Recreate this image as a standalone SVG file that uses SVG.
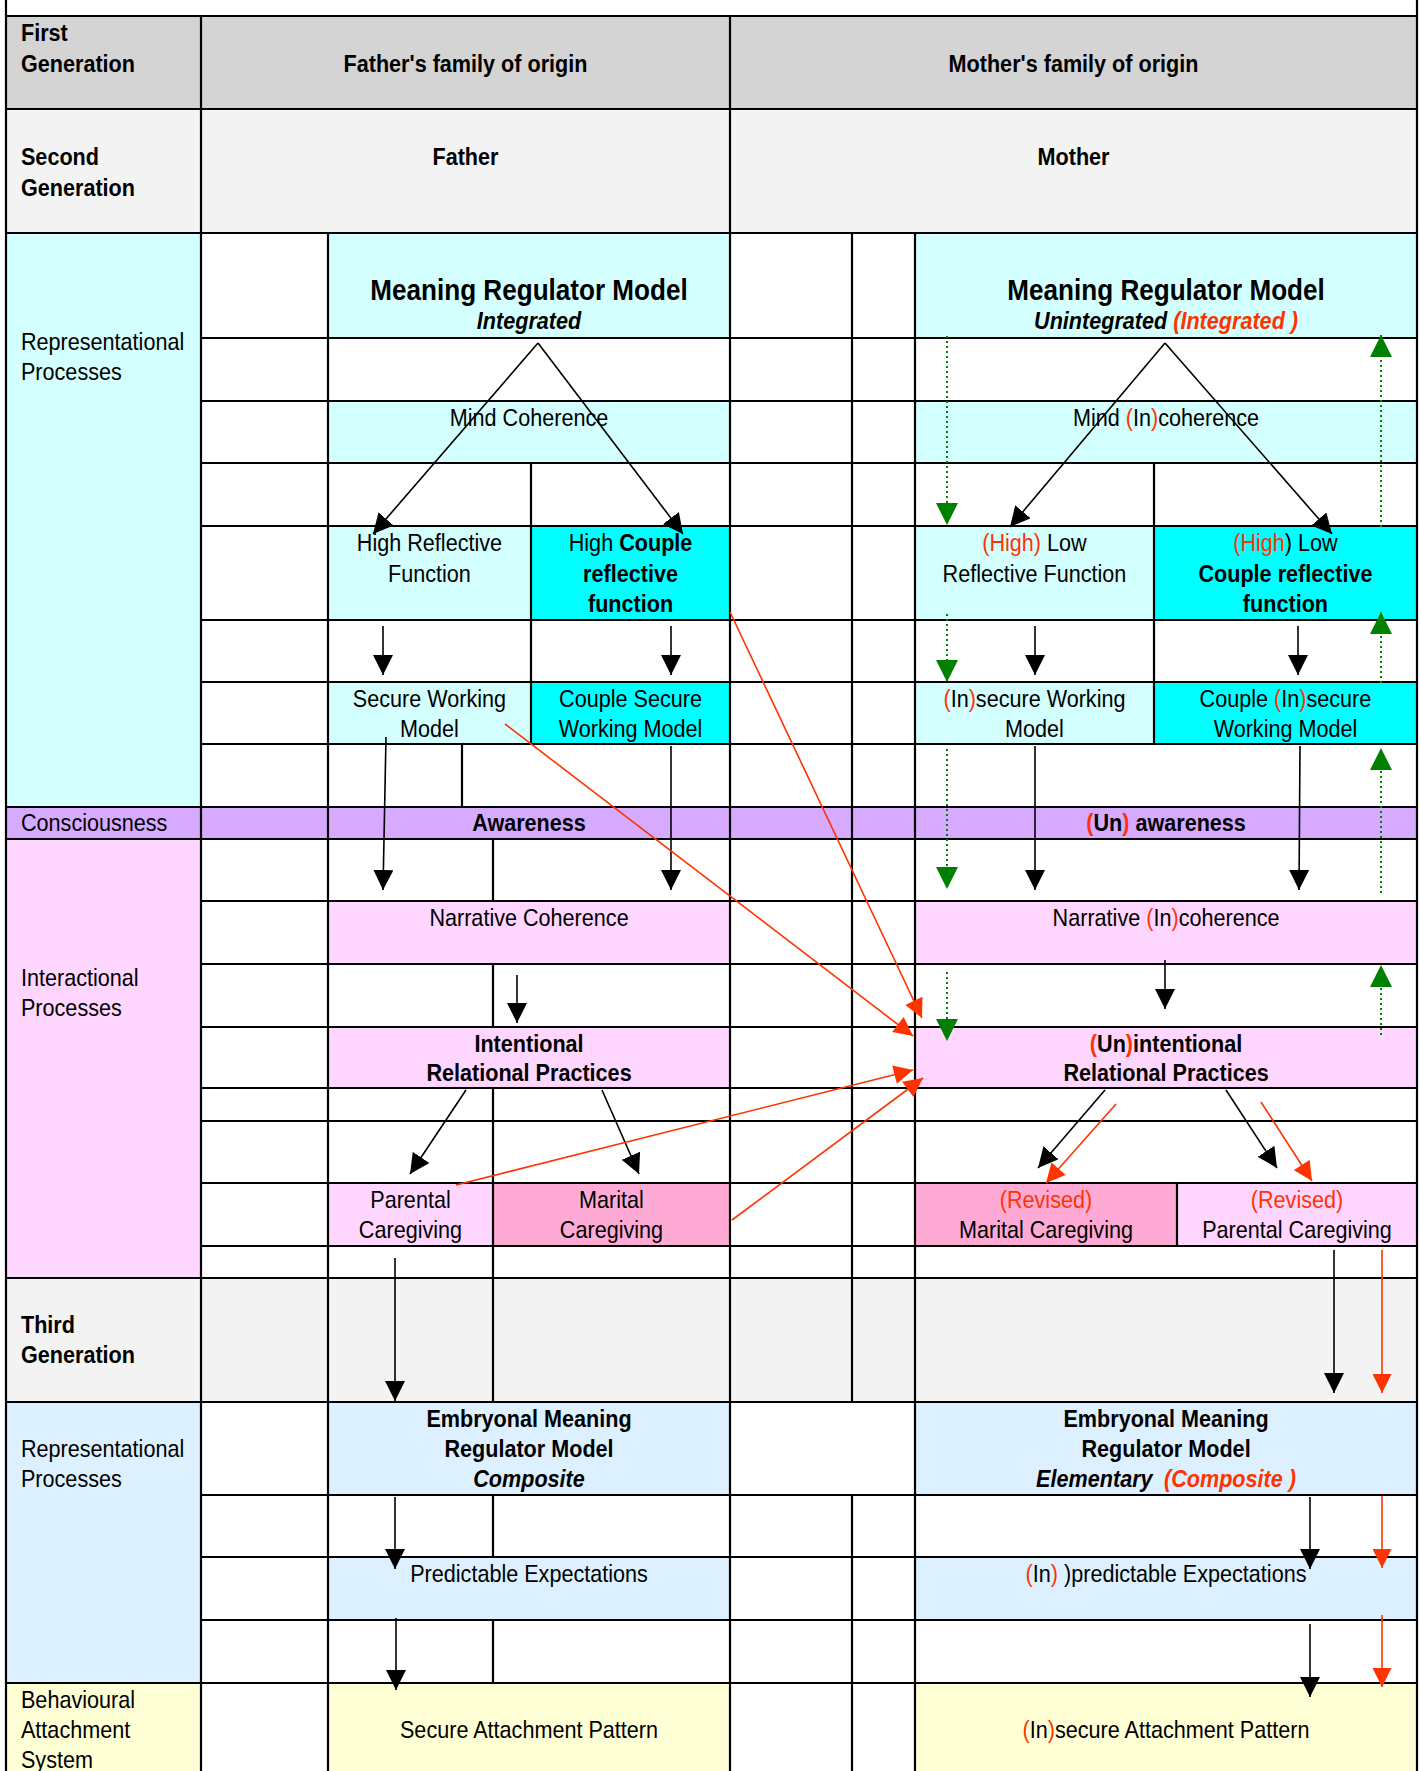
<svg xmlns="http://www.w3.org/2000/svg" width="1421" height="1771" viewBox="0 0 1421 1771">
<style>
  text { font-family: "Liberation Sans", Arial, sans-serif; font-size: 24px; fill: #000; }
  .b { font-weight: bold; }
  .i { font-style: italic; }
  .c { text-anchor: middle; }
  .big { font-size: 29px; font-weight: bold; }
  .red { fill: #ff3300; }
  .g1 { fill: #d4d4d4; }
  .g2 { fill: #f3f3f3; }
  .cy { fill: #d4ffff; }
  .cy2 { fill: #00ffff; }
  .pu { fill: #d6aaff; }
  .pk { fill: #ffd6ff; }
  .pk2 { fill: #ffaad5; }
  .bl { fill: #dcf0ff; }
  .ye { fill: #ffffd6; }
  .grid { stroke: #000; stroke-width: 2.2; fill: none; }
  .k { stroke: #000; stroke-width: 1.6; fill: none; marker-end: url(#mk); }
  .rd { stroke: #ff3300; stroke-width: 1.6; fill: none; marker-end: url(#mr); }
  .gr { stroke: #008000; stroke-width: 2; stroke-dasharray: 2 3; fill: none; marker-end: url(#mg); }
</style>
<defs>
  <marker id="mk" viewBox="0 0 20 20" refX="20" refY="10" markerWidth="20" markerHeight="20" markerUnits="userSpaceOnUse" orient="auto"><path d="M0,0L20,10L0,20Z" fill="#000"/></marker>
  <marker id="mr" viewBox="0 0 20 20" refX="20" refY="10" markerWidth="20" markerHeight="19" markerUnits="userSpaceOnUse" orient="auto"><path d="M0,0L20,10L0,20Z" fill="#ff3300"/></marker>
  <marker id="mg" viewBox="0 0 20 20" refX="20" refY="10" markerWidth="22" markerHeight="22" markerUnits="userSpaceOnUse" orient="auto"><path d="M0,0L20,10L0,20Z" fill="#008000"/></marker>
</defs>

<rect x="0" y="0" width="1421" height="1771" fill="#fff"/>

<!-- header rows -->
<g id="first-generation"><rect x="6" y="16" width="195" height="93" class="g1"/>
  <text class="b" transform="scale(.9 1)" x="23.3" y="41">First</text>
  <text class="b" transform="scale(.9 1)" x="23.3" y="72">Generation</text></g>
<g id="father-family"><rect x="201" y="16" width="529" height="93" class="g1"/>
  <text class="b c" transform="scale(.9 1)" x="517.2" y="72">Father's family of origin</text></g>
<g id="mother-family"><rect x="730" y="16" width="687" height="93" class="g1"/>
  <text class="b c" transform="scale(.9 1)" x="1192.8" y="72">Mother's family of origin</text></g>

<g id="second-generation"><rect x="6" y="109" width="195" height="124" class="g2"/>
  <text class="b" transform="scale(.9 1)" x="23.3" y="165">Second</text>
  <text class="b" transform="scale(.9 1)" x="23.3" y="196">Generation</text></g>
<g id="father"><rect x="201" y="109" width="529" height="124" class="g2"/>
  <text class="b c" transform="scale(.9 1)" x="517.2" y="165">Father</text></g>
<g id="mother"><rect x="730" y="109" width="687" height="124" class="g2"/>
  <text class="b c" transform="scale(.9 1)" x="1192.8" y="165">Mother</text></g>

<!-- row labels -->
<g id="representational-2"><rect x="6" y="233" width="195" height="574" class="cy"/>
  <text transform="scale(.9 1)" x="23.3" y="350">Representational</text>
  <text transform="scale(.9 1)" x="23.3" y="380">Processes</text></g>
<g id="consciousness"><rect x="6" y="807" width="1411" height="32" class="pu"/>
  <text transform="scale(.9 1)" x="23.3" y="831">Consciousness</text></g>
<g id="interactional"><rect x="6" y="839" width="195" height="439" class="pk"/>
  <text transform="scale(.9 1)" x="23.3" y="986">Interactional</text>
  <text transform="scale(.9 1)" x="23.3" y="1016">Processes</text></g>
<g id="third-generation"><rect x="6" y="1278" width="1411" height="124" class="g2"/>
  <text class="b" transform="scale(.9 1)" x="23.3" y="1333">Third</text>
  <text class="b" transform="scale(.9 1)" x="23.3" y="1363">Generation</text></g>
<g id="representational-3"><rect x="6" y="1402" width="195" height="281" class="bl"/>
  <text transform="scale(.9 1)" x="23.3" y="1457">Representational</text>
  <text transform="scale(.9 1)" x="23.3" y="1487">Processes</text></g>
<g id="behavioural"><rect x="6" y="1683" width="195" height="88" class="ye"/>
  <text transform="scale(.9 1)" x="23.3" y="1708">Behavioural</text>
  <text transform="scale(.9 1)" x="23.3" y="1738">Attachment</text>
  <text transform="scale(.9 1)" x="23.3" y="1768">System</text></g>

<!-- father column -->
<g id="f-meaning-model"><rect x="328" y="233" width="402" height="105" class="cy"/>
  <text class="big c" transform="scale(.9 1)" x="587.8" y="300">Meaning Regulator Model</text>
  <text class="b i c" transform="scale(.9 1)" x="587.8" y="329">Integrated</text></g>
<g id="f-mind"><rect x="328" y="401" width="402" height="62" class="cy"/>
  <text class="c" transform="scale(.9 1)" x="587.8" y="426">Mind Coherence</text></g>
<g id="f-reflective"><rect x="328" y="526" width="203" height="94" class="cy"/>
  <text class="c" transform="scale(.9 1)" x="477.2" y="551">High Reflective</text>
  <text class="c" transform="scale(.9 1)" x="477.2" y="582">Function</text></g>
<g id="f-couple-reflective"><rect x="531" y="526" width="199" height="94" class="cy2"/>
  <text class="c" transform="scale(.9 1)" x="700.6" y="551">High <tspan class="b">Couple</tspan></text>
  <text class="b c" transform="scale(.9 1)" x="700.6" y="582">reflective</text>
  <text class="b c" transform="scale(.9 1)" x="700.6" y="612">function</text></g>
<g id="f-working-model"><rect x="328" y="682" width="203" height="62" class="cy"/>
  <text class="c" transform="scale(.9 1)" x="477.2" y="707">Secure Working</text>
  <text class="c" transform="scale(.9 1)" x="477.2" y="737">Model</text></g>
<g id="f-couple-working"><rect x="531" y="682" width="199" height="62" class="cy2"/>
  <text class="c" transform="scale(.9 1)" x="700.6" y="707">Couple Secure</text>
  <text class="c" transform="scale(.9 1)" x="700.6" y="737">Working Model</text></g>
<g id="f-awareness">
  <text class="b c" transform="scale(.9 1)" x="587.8" y="831">Awareness</text></g>
<g id="f-narrative"><rect x="328" y="901" width="402" height="63" class="pk"/>
  <text class="c" transform="scale(.9 1)" x="587.8" y="926">Narrative Coherence</text></g>
<g id="f-practices"><rect x="328" y="1027" width="402" height="61" class="pk"/>
  <text class="b c" transform="scale(.9 1)" x="587.8" y="1052">Intentional</text>
  <text class="b c" transform="scale(.9 1)" x="587.8" y="1081">Relational Practices</text></g>
<g id="f-parental"><rect x="328" y="1183" width="165" height="63" class="pk"/>
  <text class="c" transform="scale(.9 1)" x="456.1" y="1208">Parental</text>
  <text class="c" transform="scale(.9 1)" x="456.1" y="1238">Caregiving</text></g>
<g id="f-marital"><rect x="493" y="1183" width="237" height="63" class="pk2"/>
  <text class="c" transform="scale(.9 1)" x="679.4" y="1208">Marital</text>
  <text class="c" transform="scale(.9 1)" x="679.4" y="1238">Caregiving</text></g>
<g id="f-embryonal"><rect x="328" y="1402" width="402" height="93" class="bl"/>
  <text class="b c" transform="scale(.9 1)" x="587.8" y="1427">Embryonal Meaning</text>
  <text class="b c" transform="scale(.9 1)" x="587.8" y="1457">Regulator Model</text>
  <text class="b i c" transform="scale(.9 1)" x="587.8" y="1487">Composite</text></g>
<g id="f-expectations"><rect x="328" y="1557" width="402" height="63" class="bl"/>
  <text class="c" transform="scale(.9 1)" x="587.8" y="1582">Predictable Expectations</text></g>
<g id="f-attachment"><rect x="328" y="1683" width="402" height="88" class="ye"/>
  <text class="c" transform="scale(.9 1)" x="587.8" y="1738">Secure Attachment Pattern</text></g>

<!-- mother column -->
<g id="m-meaning-model"><rect x="915" y="233" width="502" height="105" class="cy"/>
  <text class="big c" transform="scale(.9 1)" x="1295.6" y="300">Meaning Regulator Model</text>
  <text class="b i c" transform="scale(.9 1)" x="1295.6" y="329">Unintegrated <tspan class="red">(Integrated )</tspan></text></g>
<g id="m-mind"><rect x="915" y="401" width="502" height="62" class="cy"/>
  <text class="c" transform="scale(.9 1)" x="1295.6" y="426">Mind <tspan class="red">(</tspan>In<tspan class="red">)</tspan>coherence</text></g>
<g id="m-reflective"><rect x="915" y="526" width="239" height="94" class="cy"/>
  <text class="c" transform="scale(.9 1)" x="1149.4" y="551"><tspan class="red">(High)</tspan> Low</text>
  <text class="c" transform="scale(.9 1)" x="1149.4" y="582">Reflective Function</text></g>
<g id="m-couple-reflective"><rect x="1154" y="526" width="263" height="94" class="cy2"/>
  <text class="c" transform="scale(.9 1)" x="1428.3" y="551"><tspan class="red">(High</tspan>) Low</text>
  <text class="b c" transform="scale(.9 1)" x="1428.3" y="582">Couple reflective</text>
  <text class="b c" transform="scale(.9 1)" x="1428.3" y="612">function</text></g>
<g id="m-working-model"><rect x="915" y="682" width="239" height="62" class="cy"/>
  <text class="c" transform="scale(.9 1)" x="1149.4" y="707"><tspan class="red">(</tspan>In<tspan class="red">)</tspan>secure Working</text>
  <text class="c" transform="scale(.9 1)" x="1149.4" y="737">Model</text></g>
<g id="m-couple-working"><rect x="1154" y="682" width="263" height="62" class="cy2"/>
  <text class="c" transform="scale(.9 1)" x="1428.3" y="707">Couple <tspan class="red">(</tspan>In<tspan class="red">)</tspan>secure</text>
  <text class="c" transform="scale(.9 1)" x="1428.3" y="737">Working Model</text></g>
<g id="m-awareness">
  <text class="b c" transform="scale(.9 1)" x="1295.6" y="831"><tspan class="red">(</tspan>Un<tspan class="red">)</tspan> awareness</text></g>
<g id="m-narrative"><rect x="915" y="901" width="502" height="63" class="pk"/>
  <text class="c" transform="scale(.9 1)" x="1295.6" y="926">Narrative <tspan class="red">(</tspan>In<tspan class="red">)</tspan>coherence</text></g>
<g id="m-practices"><rect x="915" y="1027" width="502" height="61" class="pk"/>
  <text class="b c" transform="scale(.9 1)" x="1295.6" y="1052"><tspan class="red">(</tspan>Un<tspan class="red">)</tspan>intentional</text>
  <text class="b c" transform="scale(.9 1)" x="1295.6" y="1081">Relational Practices</text></g>
<g id="m-marital"><rect x="915" y="1183" width="262" height="63" class="pk2"/>
  <text class="c red" transform="scale(.9 1)" x="1162.2" y="1208">(Revised)</text>
  <text class="c" transform="scale(.9 1)" x="1162.2" y="1238">Marital Caregiving</text></g>
<g id="m-parental"><rect x="1177" y="1183" width="240" height="63" class="pk"/>
  <text class="c red" transform="scale(.9 1)" x="1441.1" y="1208">(Revised)</text>
  <text class="c" transform="scale(.9 1)" x="1441.1" y="1238">Parental Caregiving</text></g>
<g id="m-embryonal"><rect x="915" y="1402" width="502" height="93" class="bl"/>
  <text class="b c" transform="scale(.9 1)" x="1295.6" y="1427">Embryonal Meaning</text>
  <text class="b c" transform="scale(.9 1)" x="1295.6" y="1457">Regulator Model</text>
  <text class="b i c" transform="scale(.9 1)" x="1295.6" y="1487">Elementary <tspan class="red" dx="6">(Composite )</tspan></text></g>
<g id="m-expectations"><rect x="915" y="1557" width="502" height="63" class="bl"/>
  <text class="c" transform="scale(.9 1)" x="1295.6" y="1582"><tspan class="red">(</tspan>In<tspan class="red">)</tspan> )predictable Expectations</text></g>
<g id="m-attachment"><rect x="915" y="1683" width="502" height="88" class="ye"/>
  <text class="c" transform="scale(.9 1)" x="1295.6" y="1738"><tspan class="red">(</tspan>In<tspan class="red">)</tspan>secure Attachment Pattern</text></g>

<!-- table rules -->
<g id="grid" class="grid">
  <path d="M6,0V1771M1417,0V1771M201,16V1771M730,16V1771M328,233V1771M915,233V1771M852,233V1402M852,1495V1771M531,463V744M1154,463V744M462,744V807M493,839V901M493,964V1027M493,1088V1402M493,1495V1557M493,1620V1683M1177,1183V1246"/>
  <path d="M6,16H1417M6,109H1417M6,233H1417M201,338H1417M201,401H1417M201,463H1417M201,526H1417M201,620H1417M201,682H1417M201,744H1417M6,807H1417M6,839H1417M201,901H1417M201,964H1417M201,1027H1417M201,1088H1417M201,1121H1417M201,1183H1417M201,1246H1417M6,1278H1417M6,1402H1417M201,1495H1417M201,1557H1417M201,1620H1417M6,1683H1417"/>
</g>

<!-- connectors -->
<g id="connectors">
  <!-- father -->
  <path class="k" d="M538,343L373,534"/>
  <path class="k" d="M538,343L683,534"/>
  <path class="k" d="M383,626L383,675"/>
  <path class="k" d="M671,626L671,675"/>
  <path class="k" d="M386,737L383,890"/>
  <path class="k" d="M671,746L671,890"/>
  <path class="k" d="M517,975L517,1023"/>
  <path class="k" d="M466,1090L410,1174"/>
  <path class="k" d="M602,1090L639,1174"/>
  <path class="k" d="M395,1258L395,1401"/>
  <path class="k" d="M395,1497L395,1569"/>
  <path class="k" d="M396,1618L396,1690"/>
  <!-- mother -->
  <path class="k" d="M1165,343L1010,527"/>
  <path class="k" d="M1165,343L1332,534"/>
  <path class="k" d="M1035,626L1035,675"/>
  <path class="k" d="M1298,626L1298,675"/>
  <path class="k" d="M1035,746L1035,890"/>
  <path class="k" d="M1300,746L1299,890"/>
  <path class="k" d="M1165,960L1165,1009"/>
  <path class="k" d="M1105,1090L1038,1168"/>
  <path class="rd" d="M1116,1104L1046,1183"/>
  <path class="k" d="M1226,1090L1277,1168"/>
  <path class="rd" d="M1261,1102L1312,1181"/>
  <path class="k" d="M1334,1250L1334,1393"/>
  <path class="rd" d="M1382,1250L1382,1393"/>
  <path class="k" d="M1310,1497L1310,1569"/>
  <path class="rd" d="M1382,1496L1382,1568"/>
  <path class="k" d="M1310,1624L1310,1697"/>
  <path class="rd" d="M1382,1615L1382,1687"/>
  <!-- transmission from father to mother -->
  <path class="rd" d="M730,612L922,1018"/>
  <path class="rd" d="M505,724L913,1036"/>
  <path class="rd" d="M456,1185L913,1070"/>
  <path class="rd" d="M732,1220L923,1078"/>
  <!-- revision paths -->
  <path class="gr" d="M947,336L947,525"/>
  <path class="gr" d="M947,614L947,682"/>
  <path class="gr" d="M947,749L947,889"/>
  <path class="gr" d="M947,972L947,1041"/>
  <path class="gr" d="M1381,1035L1381,965"/>
  <path class="gr" d="M1381,893L1381,748"/>
  <path class="gr" d="M1381,683L1381,612"/>
  <path class="gr" d="M1381,527L1381,335"/>
</g>
</svg>
